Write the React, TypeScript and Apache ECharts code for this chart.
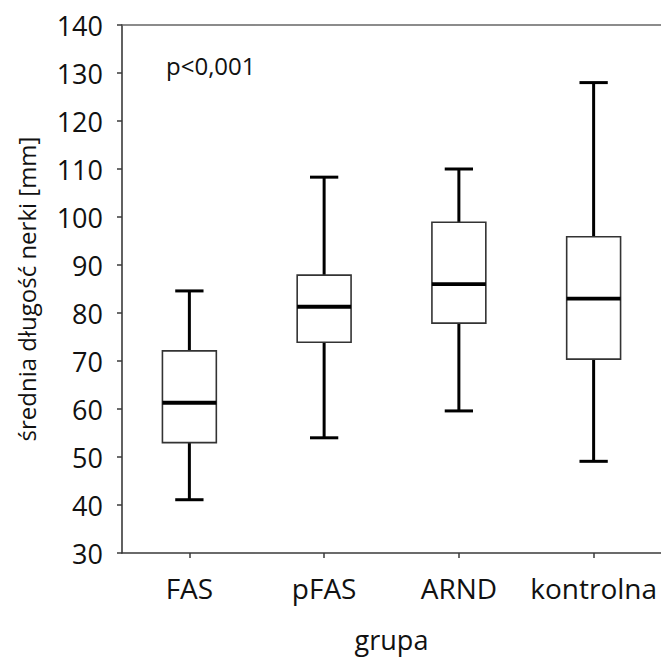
import React, { useEffect, useRef } from "react";
import * as echarts from "echarts";

const categories = ["FAS", "pFAS", "ARND", "kontrolna"];
// [min, Q1, median, Q3, max]
const boxValues = [
  [41.1, 53.0, 61.3, 72.1, 84.6],
  [54.0, 73.9, 81.3, 87.9, 108.3],
  [59.6, 77.9, 86.0, 98.9, 110.0],
  [49.1, 70.4, 83.0, 95.9, 128.0],
];
const yMin = 30;
const yMax = 140;
const yStep = 10;
const annotation = "p<0,001";
const yTitle = "średnia długość nerki [mm]";
const xTitle = "grupa";

const FONT = "'Open Sans', 'Noto Sans', sans-serif";

export default function App() {
  const ref = useRef<HTMLDivElement>(null);
  useEffect(() => {
    if (!ref.current) return;
    const chart = echarts.init(ref.current, null, { renderer: "svg" });
    const data = boxValues.map((v, i) => [i, ...v]);
    chart.setOption({
      animation: false,
      backgroundColor: "#fff",
      textStyle: { fontFamily: FONT },
      grid: { left: 122, top: 25, width: 541, height: 528 },
      xAxis: [
        {
          type: "category",
          data: categories,
          position: "bottom",
          boundaryGap: true,
          axisLine: { show: true, lineStyle: { color: "#3a3a3a", width: 1.6 } },
          axisTick: { show: true, alignWithLabel: true, length: 5, lineStyle: { color: "#3a3a3a", width: 1.5 } },
          axisLabel: { color: "#111", fontSize: 28, fontFamily: FONT, margin: 21, interval: 0 },
          splitLine: { show: false },
          name: xTitle,
          nameLocation: "middle",
          nameGap: 73,
          nameTextStyle: { color: "#111", fontSize: 27, fontFamily: FONT },
        },
        {
          type: "category",
          data: categories,
          position: "top",
          axisLine: { show: true, lineStyle: { color: "#666", width: 1.5 } },
          axisTick: { show: false },
          axisLabel: { show: false },
          splitLine: { show: false },
        },
      ],
      yAxis: {
        type: "value",
        min: yMin,
        max: yMax,
        interval: yStep,
        axisLine: { show: true, lineStyle: { color: "#3a3a3a", width: 1.6 } },
        axisTick: { show: true, length: 5, lineStyle: { color: "#3a3a3a", width: 1.5 } },
        axisLabel: { color: "#111", fontSize: 27, fontFamily: FONT, margin: 19 },
        splitLine: { show: false },
        name: yTitle,
        nameLocation: "middle",
        nameGap: 84,
        nameTextStyle: { color: "#111", fontSize: 24, fontFamily: FONT },
      },
      graphic: [
        {
          type: "text",
          left: 166,
          top: 53,
          style: { text: annotation, fill: "#111", fontSize: 24, fontFamily: FONT },
        },
      ],
      series: [
        {
          type: "custom",
          xAxisIndex: 0,
          data,
          encode: { x: 0, y: [1, 2, 3, 4, 5] },
          renderItem: (params: any, api: any) => {
            const idx = api.value(0);
            const lo = api.coord([idx, api.value(1)]);
            const q1 = api.coord([idx, api.value(2)]);
            const med = api.coord([idx, api.value(3)]);
            const q3 = api.coord([idx, api.value(4)]);
            const hi = api.coord([idx, api.value(5)]);
            const band = api.size([1, 0])[0];
            const cx = lo[0];
            const bw = band * 0.4;
            const cw = band * 0.21;
            const wStyle = { stroke: "#000", lineWidth: 3 };
            return {
              type: "group",
              children: [
                { type: "line", shape: { x1: cx, y1: hi[1], x2: cx, y2: q3[1] }, style: wStyle },
                { type: "line", shape: { x1: cx, y1: q1[1], x2: cx, y2: lo[1] }, style: wStyle },
                { type: "line", shape: { x1: cx - cw / 2, y1: hi[1], x2: cx + cw / 2, y2: hi[1] }, style: wStyle },
                { type: "line", shape: { x1: cx - cw / 2, y1: lo[1], x2: cx + cw / 2, y2: lo[1] }, style: wStyle },
                {
                  type: "rect",
                  shape: { x: cx - bw / 2, y: q3[1], width: bw, height: q1[1] - q3[1] },
                  style: { fill: "#fff", stroke: "#333", lineWidth: 1.6 },
                },
                {
                  type: "line",
                  shape: { x1: cx - bw / 2, y1: med[1], x2: cx + bw / 2, y2: med[1] },
                  style: { stroke: "#000", lineWidth: 3.8 },
                },
              ],
            };
          },
        },
      ],
    });
    return () => chart.dispose();
  }, []);
  return <div ref={ref} style={{ width: 661, height: 659, position: "fixed", left: 0, top: 0 }} />;
}
